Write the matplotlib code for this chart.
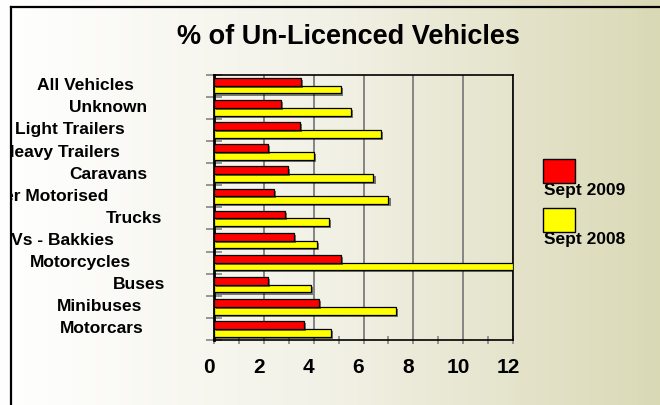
import numpy as np
import matplotlib
matplotlib.use('Agg')
import matplotlib.pyplot as plt
from matplotlib import patheffects as pe
from matplotlib.colors import LinearSegmentedColormap
from matplotlib.lines import Line2D
from matplotlib.patches import Rectangle
from matplotlib.transforms import Bbox, ScaledTranslation, blended_transform_factory

# data, top row first as in the source chart
CATEGORIES = ['All Vehicles', 'Unknown', 'Light Trailers', 'Heavy Trailers',
              'Caravans', 'Other Motorised', 'Trucks', 'LDVs - Bakkies',
              'Motorcycles', 'Buses', 'Minibuses', 'Motorcars']
SEPT_2009 = [3.5, 2.7, 3.45, 2.15, 2.95, 2.4, 2.85, 3.2, 5.1, 2.15, 4.2, 3.6]
SEPT_2008 = [5.1, 5.5, 6.7, 4.0, 6.4, 7.0, 4.6, 4.15, 12.0, 3.9, 7.3, 4.7]
SERIES = ['Sept 2009', 'Sept 2008']
XTICKS = [0, 2, 4, 6, 8, 10, 12]
TITLE = '% of Un-Licenced Vehicles'

RED = '#FF0000'; YELLOW = '#FFFF00'; GRID = '#858585'
FONT = 'Liberation Sans'
W, H = 660, 405

fig = plt.figure(figsize=(W / 100, H / 100), dpi=100)

# white -> olive gradient behind everything
bg = fig.add_axes([0, 0, 1, 1], zorder=-5)
cmap = LinearSegmentedColormap.from_list('bg', ['#FFFFFF', '#F2F1E6', '#DAD9B6'])
bg.imshow(np.linspace(0, 1, 256)[None, :], aspect='auto', cmap=cmap,
          extent=[0, 1, 0, 1])
bg.axis('off')

ax = fig.add_axes([214 / W, 1 - 340 / H, (513 - 214) / W, (340 - 74.7) / H])
ax.set_facecolor('none')

y = np.arange(len(CATEGORIES))
h = 0.35
shadow = [pe.SimplePatchShadow(offset=(1.5, -1.5), shadow_rgbFace='black', alpha=0.5),
          pe.Normal()]
b08 = ax.barh(y + h / 2, SEPT_2008, height=h, color=YELLOW, edgecolor='black',
              lw=0.9, zorder=3)
b09 = ax.barh(y - h / 2, SEPT_2009, height=h, color=RED, edgecolor='black',
              lw=0.9, zorder=4)
for p in list(b08) + list(b09):
    p.set_path_effects(shadow)

ax.set_xlim(0, 12)
ax.set_ylim(len(CATEGORIES) - 0.5, -0.5)
ax.set_xticks(XTICKS)
ax.set_xticks(range(13), minor=True)
ax.set_yticks(np.arange(-0.5, len(CATEGORIES), 1))
ax.set_yticklabels([])
ax.tick_params(axis='y', direction='inout', length=12, width=1.2, color=GRID)
ax.tick_params(axis='x', which='both', direction='inout', length=6, width=1.2,
               color=GRID, pad=10, labelsize=15)
nudge = ScaledTranslation(-5 / 100, 0, fig.dpi_scale_trans)
for lab in ax.get_xticklabels():
    lab.set_fontweight('bold'); lab.set_family(FONT)
    lab.set_transform(lab.get_transform() + nudge)
ax.grid(axis='x', which='major', color=GRID, lw=1.4)
ax.set_axisbelow(True)
for s in ax.spines.values():
    s.set_color('black'); s.set_linewidth(1.2)
ax.spines['left'].set_linewidth(2)

# category labels: right-anchored but shifted left by part of their width,
# which reproduces the odd staggered/clipped look of the original
trans = blended_transform_factory(fig.transFigure, ax.transData)
labels = [fig.text(0, i, c, transform=trans, ha='left', va='center',
                   fontsize=12.5, weight='bold', family=FONT)
          for i, c in enumerate(CATEGORIES)]
fig.canvas.draw()
r = fig.canvas.get_renderer()
R, K = 202, 1.7
clip = Bbox.from_extents(12, 0, W, H - 8)
for t in labels:
    w = t.get_window_extent(r).width
    t.set_x((R - K * w) / W)
    t.set_clip_box(clip); t.set_clip_on(True)

fig.text(348 / W, 1 - 37 / H, TITLE, ha='center', va='center',
         fontsize=19.5, weight='bold', family=FONT)

# legend: swatch above its label
for k, (name, col) in enumerate(zip(SERIES, [RED, YELLOW])):
    dy = 49.5 * k
    fig.add_artist(Rectangle((543 / W, 1 - (182.5 + dy) / H), 32 / W, 24 / H,
                             transform=fig.transFigure, facecolor=col,
                             edgecolor='black', lw=1))
    fig.text(544 / W, 1 - (190 + dy) / H, name, ha='left', va='center',
             fontsize=12.5, weight='bold', family=FONT)

# chart frame (only left and top edges are inside the picture)
fig.add_artist(Line2D([11 / W, 11 / W], [0, 1 - 7 / H], color='black', lw=1.6))
fig.add_artist(Line2D([11 / W, 1], [1 - 7 / H, 1 - 7 / H], color='black', lw=1.6))

fig.savefig('out.png', dpi=100)
